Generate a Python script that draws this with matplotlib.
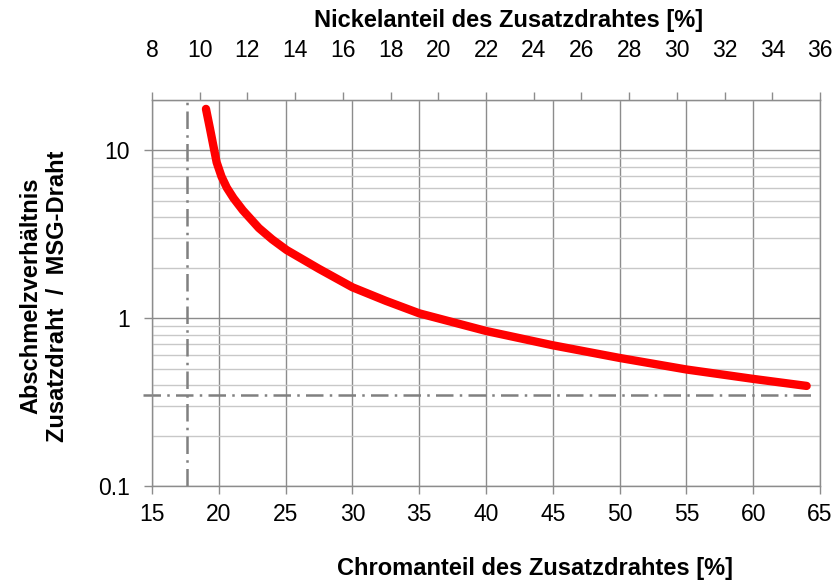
import matplotlib
matplotlib.use("Agg")
import matplotlib.pyplot as plt
from matplotlib.ticker import FixedLocator, NullFormatter, FixedFormatter
import numpy as np

plt.rcParams['font.family'] = ['Liberation Sans', 'DejaVu Sans']

# Data
chrom = [19.04, 19.34, 19.59, 19.84, 20.2, 20.6, 21.1, 21.8, 23.0, 24.0, 25.08,
         27.5, 30, 32.5, 35, 40, 45, 50, 55, 60, 64]
ratio = [17.7, 13.5, 10.7, 8.5, 7.0, 6.0, 5.2, 4.4, 3.45, 2.95, 2.55,
         1.97, 1.53, 1.27, 1.07, 0.84, 0.69, 0.58, 0.495, 0.435, 0.395]

chrom_ticks = [15, 20, 25, 30, 35, 40, 45, 50, 55, 60, 65]
nickel_ticks = [8, 10, 12, 14, 16, 18, 20, 22, 24, 26, 28, 30, 32, 34, 36]
y_major = [0.1, 1, 10]
y_major_labels = ['0.1', '1', '10']
y_minor = [0.2, 0.3, 0.4, 0.5, 0.6, 0.7, 0.8, 0.9, 2, 3, 4, 5, 6, 7, 8, 9, 20]

ref_chrom = 17.6
ref_ratio = 0.35

fig = plt.figure(figsize=(8.38, 5.88), dpi=100)
ax = fig.add_axes([152/838, 1-486/588, (820-152)/838, (486-100)/588])

ax.set_yscale('log')
ax.set_xlim(15, 65)
ax.set_ylim(0.1, 20)

ax.xaxis.set_major_locator(FixedLocator(chrom_ticks))
ax.yaxis.set_major_locator(FixedLocator(y_major))
ax.yaxis.set_major_formatter(FixedFormatter(y_major_labels))
ax.yaxis.set_minor_locator(FixedLocator(y_minor))
ax.yaxis.set_minor_formatter(NullFormatter())

grid_dark = '#8c8c8c'
grid_light = '#c8c8c8'
ax.grid(True, which='major', axis='x', color=grid_dark, lw=1.0)
ax.grid(True, which='major', axis='y', color=grid_dark, lw=1.0)
ax.grid(True, which='minor', axis='y', color=grid_light, lw=1.0)
ax.set_axisbelow(True)

for s in ax.spines.values():
    s.set_color(grid_dark)
    s.set_linewidth(1.0)

ax.tick_params(axis='both', which='major', direction='out', length=6, width=1.0,
               color=grid_dark, labelsize=16.5)
ax.tick_params(axis='x', which='major', pad=6)
ax.tick_params(axis='y', which='major', pad=10)
ax.tick_params(axis='y', which='minor', length=0)

# reference lines
ax.plot([ref_chrom, ref_chrom], [0.1, 20], color='#808080', lw=1.8,
        dashes=(7, 2.5, 1, 2.5), zorder=2)
ax.plot([14.33, 64.5], [ref_ratio, ref_ratio], color='#808080', lw=1.8,
        dashes=(7, 2.5, 1, 2.5), zorder=2, clip_on=False)

# curve
ax.plot(chrom, ratio, color='#ff0000', lw=6, solid_capstyle='round',
        solid_joinstyle='round', zorder=3)

def cr2ni(x):
    return 8 + (np.asarray(x) - 15) * 28.0 / 50.0

def ni2cr(n):
    return 15 + (np.asarray(n) - 8) * 50.0 / 28.0

sec = ax.secondary_xaxis('top', functions=(cr2ni, ni2cr))
sec.xaxis.set_major_locator(FixedLocator(nickel_ticks))
sec.tick_params(axis='x', direction='out', length=6, width=1.0, color=grid_dark,
                labelsize=16.5, pad=21)
sec.spines['top'].set_color(grid_dark)

fig.text(509/838, 1-21/588, 'Nickelanteil des Zusatzdrahtes [%]', ha='center',
         va='center', fontsize=17, fontweight='bold')
fig.text(535/838, 1-568/588, 'Chromanteil des Zusatzdrahtes [%]', ha='center',
         va='center', fontsize=17, fontweight='bold')
fig.text(44/838, 1-296/588, 'Abschmelzverhältnis\nZusatzdraht  /  MSG-Draht',
         ha='center', va='center', rotation=90, fontsize=17, fontweight='bold',
         linespacing=1.2)

fig.savefig('out.png', dpi=100)
